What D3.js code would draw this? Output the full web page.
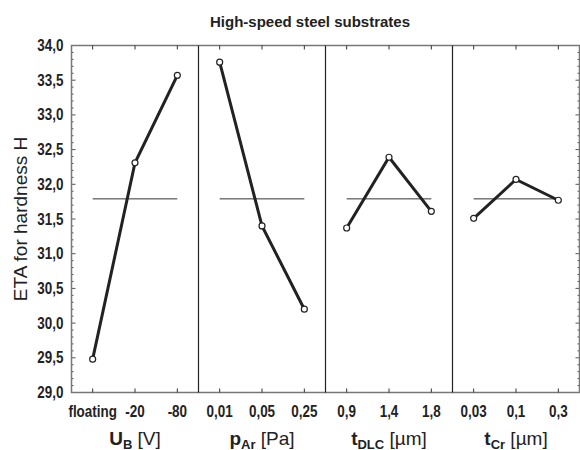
<!DOCTYPE html>
<html>
<head>
<meta charset="utf-8">
<script src="https://cdn.jsdelivr.net/npm/d3@7"></script>
<style>
    body { margin: 0; background: #fff; }
    svg { display: block; font-family: "Liberation Sans", Arial, sans-serif; }
    .tick-label { font-weight: bold; font-size: 16px; fill: #222; }
</style>
</head>
<body>
<div id="chart"></div>
<script>

// factor panels
let factorNames = ["U", "p", "t", "t"];
let factorSubs = ["B", "Ar", "DLC", "Cr"];
let factorUnits = ["[V]", "[Pa]", "[µm]", "[µm]"];

let levelsUB = ["floating", "-20", "-80"];
let levelsPAr = ["0,01", "0,05", "0,25"];
let levelsTDLC = ["0,9", "1,4", "1,8"];
let levelsTCr = ["0,03", "0,1", "0,3"];

// ETA values
let etaUB = [29.48, 32.31, 33.57];
let etaPAr = [33.76, 31.40, 30.20];
let etaTDLC = [31.37, 32.39, 31.61];
let etaTCr = [31.51, 32.07, 31.77];

let overallMean = 31.79;

let yTicks = [29, 29.5, 30, 30.5, 31, 31.5, 32, 32.5, 33, 33.5, 34];

let panels = [
    {levels: levelsUB, values: etaUB},
    {levels: levelsPAr, values: etaPAr},
    {levels: levelsTDLC, values: etaTDLC},
    {levels: levelsTCr, values: etaTCr}
];

let margin = {top: 45.5, right: 0.5, bottom: 57.5, left: 71.5};
let width = 580 - margin.left - margin.right;
let height = 450 - margin.top - margin.bottom;

// narrow bold text, like the condensed face of the original
let narrow = 0.84;

let svg = d3.select("#chart").append("svg")
    .attr("width", 580)
    .attr("height", 450)
    .append("g")
    .attr("transform", "translate(" + margin.left + "," + margin.top + ")");

// Title
svg.append("text")
    .attr("x", 310 - margin.left)
    .attr("y", 27 - margin.top)
    .attr("text-anchor", "middle")
    .style("font-weight", "bold")
    .style("font-size", "15px")
    .style("fill", "#222")
    .text("High-speed steel substrates");

// Scales
let y = d3.scaleLinear().domain([29, 34]).range([height, 0]);
let panelX = d3.scaleBand().domain(d3.range(panels.length)).range([0, width]);
let pw = panelX.bandwidth();
let catX = d3.scaleBand().domain([0, 1, 2]).range([0, pw]);

// Y label
svg.append("text")
    .attr("transform", "rotate(-90)")
    .attr("x", -height / 2)
    .attr("y", 27 - margin.left)
    .attr("text-anchor", "middle")
    .style("font-size", "19px")
    .style("fill", "#222")
    .text("ETA for hardness H");

// Y tick labels
svg.selectAll(".ylab")
    .data(yTicks)
    .enter().append("text")
    .attr("class", "tick-label")
    .attr("transform", d => "translate(-8," + (y(d) + 5.5) + ") scale(" + narrow + ",1)")
    .attr("text-anchor", "end")
    .text(d => d3.format(".1f")(d).replace(".", ","));

// minor and major y ticks, left and right edges
let minorTicks = d3.range(290, 341).map(d => d / 10);
[0, width].forEach((xEdge, i) => {
    let dir = i === 0 ? 1 : -1;
    svg.selectAll(".ytick" + i)
        .data(minorTicks)
        .enter().append("line")
        .attr("x1", xEdge)
        .attr("x2", d => xEdge + dir * (Math.abs(d * 2 - Math.round(d * 2)) < 0.01 ? 4 : 2))
        .attr("y1", d => y(d))
        .attr("y2", d => y(d))
        .attr("stroke", "#555")
        .attr("stroke-width", 1);
});

// Frame
svg.append("rect")
    .attr("width", width)
    .attr("height", height)
    .attr("fill", "none")
    .attr("stroke", "#777")
    .attr("stroke-width", 1.5);

panels.forEach((p, i) => {
    let g = svg.append("g")
        .attr("transform", "translate(" + panelX(i) + ",0)");
    let cx = k => catX(k) + catX.bandwidth() / 2;

    // divider
    if (i > 0) {
        g.append("line")
            .attr("x1", 0).attr("x2", 0)
            .attr("y1", 0).attr("y2", height)
            .attr("stroke", "#222")
            .attr("stroke-width", 1.2);
    }

    // category ticks top and bottom
    g.selectAll(".ctick")
        .data(p.levels)
        .enter().append("path")
        .attr("d", (d, k) => "M" + cx(k) + ",0v4M" + cx(k) + "," + height + "v-4")
        .attr("stroke", "#333")
        .attr("stroke-width", 1);

    // category labels
    g.selectAll(".clab")
        .data(p.levels)
        .enter().append("text")
        .attr("class", "tick-label")
        .attr("transform", (d, k) => "translate(" + cx(k) + "," + (height + 24) + ") scale(" + narrow + ",1)")
        .attr("text-anchor", "middle")
        .text(d => d);

    // mean line
    g.append("line")
        .attr("x1", cx(0)).attr("x2", cx(2))
        .attr("y1", y(overallMean)).attr("y2", y(overallMean))
        .attr("stroke", "#333")
        .attr("stroke-width", 1);

    // effect line
    let line = d3.line()
        .x((d, k) => cx(k))
        .y(d => y(d));
    g.append("path")
        .attr("d", line(p.values))
        .attr("fill", "none")
        .attr("stroke", "#222")
        .attr("stroke-width", 3);

    g.selectAll(".pt")
        .data(p.values)
        .enter().append("circle")
        .attr("cx", (d, k) => cx(k))
        .attr("cy", d => y(d))
        .attr("r", 3)
        .attr("fill", "#fff")
        .attr("stroke", "#222")
        .attr("stroke-width", 1.2);

    // factor title
    let t = g.append("text")
        .attr("x", pw / 2)
        .attr("y", height + 52)
        .attr("text-anchor", "middle")
        .style("font-size", "19px")
        .style("fill", "#222");
    t.append("tspan").style("font-weight", "bold").text(factorNames[i]);
    t.append("tspan").style("font-weight", "bold").style("font-size", "13px")
        .attr("dy", 4).text(factorSubs[i]);
    t.append("tspan").attr("dy", -4).text(" " + factorUnits[i]);
});

</script>
</body>
</html>
